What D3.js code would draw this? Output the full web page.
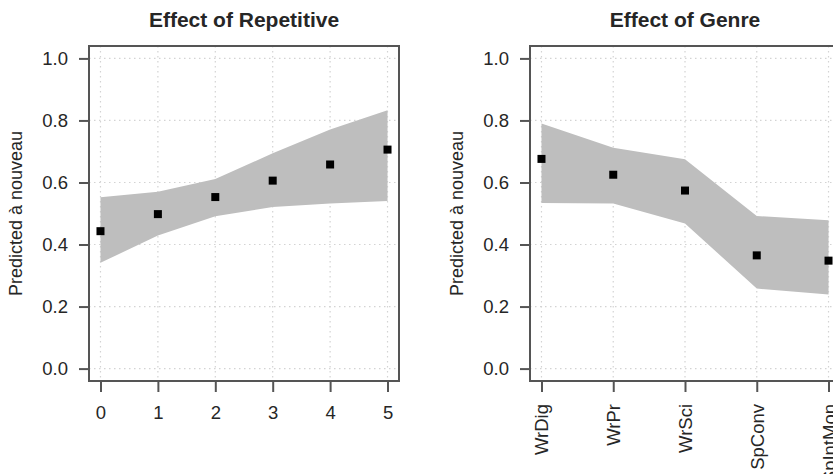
<!DOCTYPE html>
<html>
<head>
<meta charset="utf-8">
<script src="https://cdn.jsdelivr.net/npm/d3@7"></script>
<style>
  body { margin: 0; background: #fff; }
  text { font-family: "Liberation Sans", Arial, sans-serif; fill: #262626; }
</style>
</head>
<body>
<svg id="chart" width="833" height="474"></svg>
<script>
// left panel: effect of repetitive
let repLevels = [0, 1, 2, 3, 4, 5];
let repFit   = [0.443, 0.498, 0.553, 0.606, 0.658, 0.706];
let repUpper = [0.552, 0.570, 0.611, 0.694, 0.771, 0.833];
let repLower = [0.341, 0.429, 0.491, 0.521, 0.532, 0.540];

// right panel: effect of genre
let genres     = ["WrDig", "WrPr", "WrSci", "SpConv", "SpIntMon"];
let genreFit   = [0.676, 0.625, 0.574, 0.365, 0.348];
let genreUpper = [0.790, 0.712, 0.675, 0.492, 0.478];
let genreLower = [0.534, 0.532, 0.468, 0.258, 0.239];

let yTicks = [0, 0.2, 0.4, 0.6, 0.8, 1.0];
let yLabel = "Predicted à nouveau";

const svg = d3.select("#chart");

function drawPanel(p) {
  const g = svg.append("g");
  const x = d3.scaleLinear().domain(p.xDomain).range([p.left, p.right]);
  const y = d3.scaleLinear().domain([-0.04, 1.04]).range([p.bottom, p.top]);
  const xs = p.fit.map((d, i) => p.xVal(i));

  // dotted grid
  g.selectAll(".gy").data(yTicks).enter().append("line")
    .attr("x1", p.left).attr("x2", p.right)
    .attr("y1", d => y(d)).attr("y2", d => y(d))
    .attr("stroke", "#d3d3d3").attr("stroke-width", 1.2)
    .attr("stroke-dasharray", "1.5,3.5");
  g.selectAll(".gx").data(xs).enter().append("line")
    .attr("x1", d => x(d)).attr("x2", d => x(d))
    .attr("y1", p.top).attr("y2", p.bottom)
    .attr("stroke", "#d3d3d3").attr("stroke-width", 1.2)
    .attr("stroke-dasharray", "1.5,3.5");

  // confidence band
  const area = d3.area()
    .x((d, i) => x(xs[i]))
    .y0((d, i) => y(p.lower[i]))
    .y1((d, i) => y(p.upper[i]));
  g.append("path").datum(p.fit).attr("d", area).attr("fill", "#bebebe");

  // points
  g.selectAll(".pt").data(p.fit).enter().append("rect")
    .attr("x", (d, i) => x(xs[i]) - 4).attr("y", d => y(d) - 4)
    .attr("width", 8).attr("height", 8).attr("fill", "#000");

  // box
  g.append("rect")
    .attr("x", p.left).attr("y", p.top)
    .attr("width", p.right - p.left).attr("height", p.bottom - p.top)
    .attr("fill", "none").attr("stroke", "#555").attr("stroke-width", 2);

  // y axis
  const ya = d3.axisLeft(y).tickValues(yTicks).tickFormat(d3.format(".1f"))
    .tickSize(10).tickPadding(11);
  const yg = g.append("g").attr("transform", `translate(${p.left},0)`).call(ya);
  yg.select(".domain").remove();
  yg.selectAll("line").attr("stroke", "#555").attr("stroke-width", 2);
  yg.selectAll("text").attr("font-size", 18.5).attr("fill", "#262626")
    .attr("font-family", "Liberation Sans, Arial, sans-serif");

  // x axis
  const xa = d3.axisBottom(x).tickValues(xs).tickFormat((d, i) => p.tickText[i])
    .tickSize(11).tickPadding(14);
  const xg = g.append("g").attr("transform", `translate(0,${p.bottom})`).call(xa);
  xg.select(".domain").remove();
  xg.selectAll("line").attr("stroke", "#555").attr("stroke-width", 2);
  xg.selectAll("text").attr("font-size", 18.5).attr("fill", "#262626")
    .attr("font-family", "Liberation Sans, Arial, sans-serif");
  if (p.rotate) {
    xg.selectAll("text")
      .attr("transform", "rotate(-90)")
      .attr("x", -23).attr("y", 0).attr("dy", "0.35em")
      .attr("text-anchor", "end");
  }

  // title
  g.append("text")
    .attr("x", (p.left + p.right) / 2).attr("y", 27)
    .attr("text-anchor", "middle").attr("font-size", 21).attr("font-weight", "bold")
    .attr("fill", "#111")
    .text(p.title);

  // y label
  g.append("text")
    .attr("transform", `translate(${p.left - 67},${(p.top + p.bottom) / 2}) rotate(-90)`)
    .attr("text-anchor", "middle").attr("font-size", 18)
    .text(yLabel);
}

drawPanel({
  title: "Effect of Repetitive",
  left: 89, right: 399, top: 46, bottom: 381,
  xDomain: [-0.2, 5.2],
  xVal: i => repLevels[i],
  tickText: repLevels.map(String),
  fit: repFit, upper: repUpper, lower: repLower,
  rotate: false
});

drawPanel({
  title: "Effect of Genre",
  left: 530, right: 840, top: 46, bottom: 381,
  xDomain: [0.84, 5.16],
  xVal: i => i + 1,
  tickText: genres,
  fit: genreFit, upper: genreUpper, lower: genreLower,
  rotate: true
});
</script>
</body>
</html>
